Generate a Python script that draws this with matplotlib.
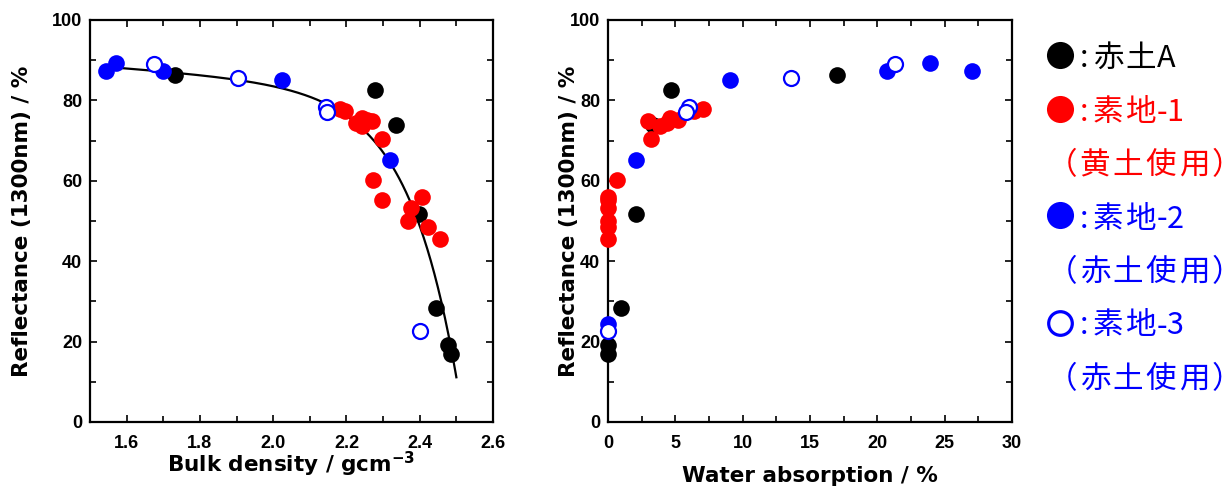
import numpy as np
import matplotlib
matplotlib.use("Agg")
import matplotlib.pyplot as plt
from matplotlib.lines import Line2D
from matplotlib.ticker import MultipleLocator

# ---- data ----
# 赤土A (black filled)
a_refl = [86.3, 82.5, 73.9, 51.8, 28.4, 19.1, 17.0]
a_bulk = [1.732, 2.277, 2.335, 2.398, 2.445, 2.477, 2.484]
a_water = [16.97, 4.68, 3.36, 2.06, 0.95, 0.0, 0.0]

# 素地-1 (red filled)
s1_refl = [77.9, 77.4, 75.5, 75.0, 74.8, 74.4, 73.7, 70.3, 60.3, 56.0, 55.3, 53.3, 50.0, 48.5, 45.6]
s1_bulk = [2.182, 2.197, 2.243, 2.255, 2.270, 2.227, 2.243, 2.298, 2.273, 2.406, 2.298, 2.377, 2.368, 2.423, 2.456]
s1_water = [7.09, 6.42, 4.60, 5.22, 2.99, 4.35, 3.86, 3.23, 0.70, 0.0, 0.0, 0.0, 0.0, 0.0, 0.0]

# 素地-2 (blue filled)
s2_refl = [87.4, 89.4, 87.4, 85.0, 65.1, 24.5]
s2_bulk = [1.544, 1.571, 1.698, 2.025, 2.318, np.nan]
s2_water = [27.0, 23.9, 20.7, 9.08, 2.11, 0.0]

# 素地-3 (blue open)
s3_refl = [89.0, 85.5, 78.4, 77.0, 22.6]
s3_bulk = [1.675, 1.905, 2.144, 2.147, 2.402]
s3_water = [21.3, 13.6, 6.04, 5.77, 0.0]

# fitted curve : bulk density vs reflectance
curve_x = [1.541, 1.582, 1.645, 1.727, 1.818, 1.909, 2.018, 2.091, 2.136,
           2.291, 2.318, 2.359, 2.391, 2.414, 2.436, 2.455, 2.473, 2.500]
curve_y = [87.8, 88.4, 88.4, 87.0, 85.7, 84.5, 82.9, 81.2, 79.6,
           68.5, 65.1, 57.7, 51.9, 45.2, 37.3, 31.1, 22.8, 12.4]

legend_labels = [":赤土A", ":素地-1", "（黄土使用）", ":素地-2", "（赤土使用）", ":素地-3", "（赤土使用）"]

# ---- style ----
RED = "#FF0000"
BLUE = "#0000FF"
W, H = 1224, 491
plt.rcParams["mathtext.fontset"] = "custom"
plt.rcParams["mathtext.rm"] = "DejaVu Sans:bold"
plt.rcParams["mathtext.it"] = "DejaVu Sans:bold"
plt.rcParams["mathtext.bf"] = "DejaVu Sans:bold"
TICKSIZE = 13
LABELFONT = dict(family="DejaVu Sans", weight="bold", size=15.5)
MS = 12

fig = plt.figure(figsize=(W / 100, H / 100), dpi=100)
ax1 = fig.add_axes([90 / W, 1 - 422 / H, 403 / W, 402 / H])
ax2 = fig.add_axes([608 / W, 1 - 422 / H, 404 / W, 402 / H])


def style_axis(ax):
    for s in ax.spines.values():
        s.set_linewidth(1.6)
    ax.tick_params(which="both", direction="in", top=True, right=True, width=1.2)
    ax.tick_params(which="major", length=5)
    ax.tick_params(which="minor", length=4)
    ax.tick_params(axis="x", which="major", pad=9)
    ax.tick_params(axis="y", which="major", pad=5.5)
    for lab in ax.get_xticklabels() + ax.get_yticklabels():
        lab.set_fontfamily("Liberation Sans")
        lab.set_fontweight("bold")
        lab.set_fontsize(TICKSIZE)


def plot_series(ax, xs):
    ax.plot(xs["a"], a_refl, "o", color="black", ms=MS, mew=0, zorder=3, clip_on=False)
    ax.plot(xs["s1"], s1_refl, "o", color=RED, ms=MS, mew=0, zorder=3, clip_on=False)
    ax.plot(xs["s2"], s2_refl, "o", color=BLUE, ms=MS, mew=0, zorder=4, clip_on=False)
    ax.plot(xs["s3"], s3_refl, "o", mfc="white", mec=BLUE, ms=MS - 1.2, mew=1.6, zorder=5, clip_on=False)


# left: curve fit y = a + c*x - b*exp(k*x)
cx = np.array(curve_x)
cy = np.array(curve_y)
best = None
for k in np.linspace(2, 40, 381):
    A = np.column_stack([np.ones_like(cx), cx, -np.exp(k * cx)])
    coef, *_ = np.linalg.lstsq(A, cy, rcond=None)
    err = np.sum((A @ coef - cy) ** 2)
    if best is None or err < best[0]:
        best = (err, k, coef)
_, kk, cf = best
xx = np.linspace(cx.min(), cx.max(), 400)
yy = cf[0] + cf[1] * xx - cf[2] * np.exp(kk * xx)
ax1.plot(xx, yy, color="black", lw=1.6, zorder=2)

plot_series(ax1, {"a": a_bulk, "s1": s1_bulk, "s2": s2_bulk, "s3": s3_bulk})
plot_series(ax2, {"a": a_water, "s1": s1_water, "s2": s2_water, "s3": s3_water})

ax1.set_xlim(1.5, 2.6)
ax1.set_ylim(0, 100)
ax1.xaxis.set_minor_locator(MultipleLocator(0.1))
ax1.yaxis.set_major_locator(MultipleLocator(20))
ax1.yaxis.set_minor_locator(MultipleLocator(10))
ax1.set_xticks([1.6, 1.8, 2.0, 2.2, 2.4, 2.6])
ax1.set_xticklabels(["1.6", "1.8", "2.0", "2.2", "2.4", "2.6"])

ax2.set_xlim(0, 30)
ax2.set_ylim(0, 100)
ax2.xaxis.set_major_locator(MultipleLocator(5))
ax2.xaxis.set_minor_locator(MultipleLocator(2.5))
ax2.yaxis.set_major_locator(MultipleLocator(20))
ax2.yaxis.set_minor_locator(MultipleLocator(10))

for ax in (ax1, ax2):
    style_axis(ax)
    ax.set_ylabel("Reflectance (1300nm) / %", va="center", **LABELFONT)

ax1.yaxis.set_label_coords((22 - 90) / 403, 0.5)
ax2.yaxis.set_label_coords((569 - 608) / 404, 0.5)

ax1.set_xlabel("Bulk density / gcm$^{-3}$", va="baseline", **LABELFONT)
ax2.set_xlabel("Water absorption / %", va="baseline", **LABELFONT)
ax1.xaxis.set_label_coords(0.5, (422 - 472) / 402)
ax2.xaxis.set_label_coords(0.5, (422 - 482) / 402)

# ---- legend ----
leg_colors = ["black", RED, RED, BLUE, BLUE, BLUE, BLUE]
leg_markers = ["fill", "fill", None, "fill", None, "open", None]
CJKFAM = ["Noto Sans CJK JP", "DejaVu Sans"]
INK_SHIFT = {"（": -9, "）": 9}


def cell_width(ch):
    if ch in "（）":
        return 15
    if ord(ch) > 0x2E80:
        return 33
    if ch == ":":
        return 16
    if ch == "-":
        return 9
    return 17


def draw_label(x_center_first, ybase, s, color):
    xc = x_center_first
    prev = None
    for ch in s:
        if prev is not None:
            xc += (cell_width(prev) + cell_width(ch)) / 2
        fig.text((xc + INK_SHIFT.get(ch, 0)) / W, 1 - ybase / H, ch, color=color,
                 fontsize=22, ha="center", va="baseline", family=CJKFAM)
        prev = ch


y0 = 55
dy = 53.5
for i, (lab, col, mk) in enumerate(zip(legend_labels, leg_colors, leg_markers)):
    ypix = y0 + i * dy
    yf = 1 - ypix / H
    if mk is not None:
        if mk == "fill":
            m = Line2D([1060 / W], [yf], marker="o", ms=19.5, mfc=col, mec=col, mew=0,
                       transform=fig.transFigure, linestyle="none")
        else:
            m = Line2D([1060 / W], [yf], marker="o", ms=17, mfc="white", mec=col, mew=2.3,
                       transform=fig.transFigure, linestyle="none")
        fig.add_artist(m)
        draw_label(1083.5, ypix + 12, lab, col)
    else:
        draw_label(1071, ypix + 12, lab, col)

fig.savefig("out.png", dpi=100)
